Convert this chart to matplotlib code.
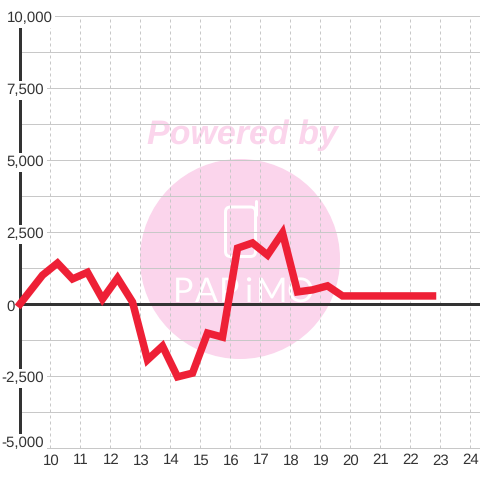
import matplotlib
matplotlib.use("Agg")
import matplotlib.pyplot as plt
from matplotlib.patches import Circle, FancyBboxPatch
from matplotlib.transforms import Affine2D, ScaledTranslation
from matplotlib.ticker import FixedLocator

hours = [9.0, 9.75, 10.25, 10.75, 11.25, 11.75, 12.25, 12.75, 13.25, 13.75, 14.25,
         14.75, 15.25, 15.75, 16.25, 16.75, 17.25, 17.75, 18.25, 18.75, 19.25,
         19.75, 20.25, 20.75, 21.25, 21.75, 22.25, 22.75]
values = [0, 1000, 1420, 870, 1100, 170, 900, 70, -1940, -1460, -2530,
          -2400, -1010, -1150, 1940, 2120, 1700, 2470, 420, 490, 630,
          280, 280, 280, 280, 280, 280, 280]
x_ticks = list(range(10, 25))
y_ticks = [-5000, -2500, 0, 2500, 5000, 7500, 10000]
y_labels = ["-5,000", "-2,500", "0", "2,500", "5,000", "7,500", "10,000"]
y_minor = [-3750, -1250, 1250, 3750, 6250, 8750]

plt.rcParams["text.hinting"] = "no_hinting"
plt.rcParams["text.hinting_factor"] = 1

FONT = "Liberation Sans"
TXT = "#333333"
GRID = "#c8c8c8"
RED = "#ee2036"
PINK = "#fbd5ec"
PX = 72 / 100

fig = plt.figure(figsize=(4.8, 4.8), dpi=100, facecolor="white")
ax = fig.add_axes([20 / 480, 32 / 480, 460 / 480, 432 / 480])
ax.set_xlim(9, 9 + 460 / 30)
ax.set_ylim(-5000, 10000)
ax.set_axisbelow(False)

for s in ("top", "right", "bottom"):
    ax.spines[s].set_visible(False)
ax.spines["left"].set_linewidth(3 * PX)
ax.spines["left"].set_color(TXT)
ax.spines["left"].set_zorder(2)

# watermark, placed in pixel coordinates measured from the top left
px = Affine2D().scale(1, -1).translate(0, 480)
ax.add_patch(Circle((240, 259), 100, transform=px, facecolor=PINK, edgecolor="none",
                    zorder=0.5, clip_on=False))
ax.text(242, 135, "Powered by", transform=px, family=FONT, weight="bold", style="italic",
        fontsize=33.6 * PX, color=PINK, ha="center", va="center", zorder=0.5, clip_on=False)
ax.add_patch(FancyBboxPatch((225.5, 207), 30, 49.5, boxstyle="round,pad=0,rounding_size=5",
                            transform=px, facecolor="none", edgecolor="white",
                            linewidth=3 * PX, zorder=0.6, clip_on=False))
ax.plot([255.5, 255.5], [201, 215], transform=px, color="white", lw=3 * PX, zorder=0.6,
        solid_capstyle="round", clip_on=False)
for ch, cx in zip("PAPiMO", [183, 206, 229, 248, 272, 300]):
    ax.text(cx, 302, ch, transform=px, family="Lato", fontsize=34 * PX,
            color="white", ha="center", va="baseline", zorder=0.6, clip_on=False)

# grid
ax.yaxis.set_major_locator(FixedLocator(y_ticks))
ax.set_yticklabels(y_labels)
ax.set_xticks(x_ticks)
ax.grid(True, axis="y", which="major", color=GRID, linewidth=1 * PX)
ax.grid(True, axis="x", which="major", color=GRID, linewidth=1 * PX, linestyle=(0, (3, 3)))
ax.hlines(y_minor, 9, ax.get_xlim()[1], color=GRID, linewidth=1 * PX, zorder=1)
for gl in ax.get_ygridlines():
    gl.set_clip_on(False)

ax.tick_params(axis="both", length=0, labelsize=15 * PX, labelcolor=TXT)
ax.tick_params(axis="x", pad=5.5 * PX)
ax.tick_params(axis="y", pad=13.5 * PX)
for lab in ax.get_xticklabels():
    lab.set_family(FONT)
    lab.set_transform(lab.get_transform() + ScaledTranslation(1 * PX / 72, 0, fig.dpi_scale_trans))
for lab, text in zip(ax.get_yticklabels(), y_labels):
    lab.set_family(FONT)
    lab.set_horizontalalignment("left")
    lab.set_bbox(dict(facecolor="white", edgecolor="none", pad=2.5 * PX))
    dx = -5 if text.startswith("-") else 0
    dy = 6 if text == "-5,000" else -1
    lab.set_transform(lab.get_transform() + ScaledTranslation(dx * PX / 72, dy * PX / 72,
                                                              fig.dpi_scale_trans))

ax.axhline(0, color=TXT, linewidth=3 * PX, zorder=3)
ax.plot(hours, values, color=RED, linewidth=7.5 * PX, solid_joinstyle="miter",
        solid_capstyle="projecting", zorder=5, clip_on=False)

fig.savefig("out.png", dpi=100, facecolor="white")
